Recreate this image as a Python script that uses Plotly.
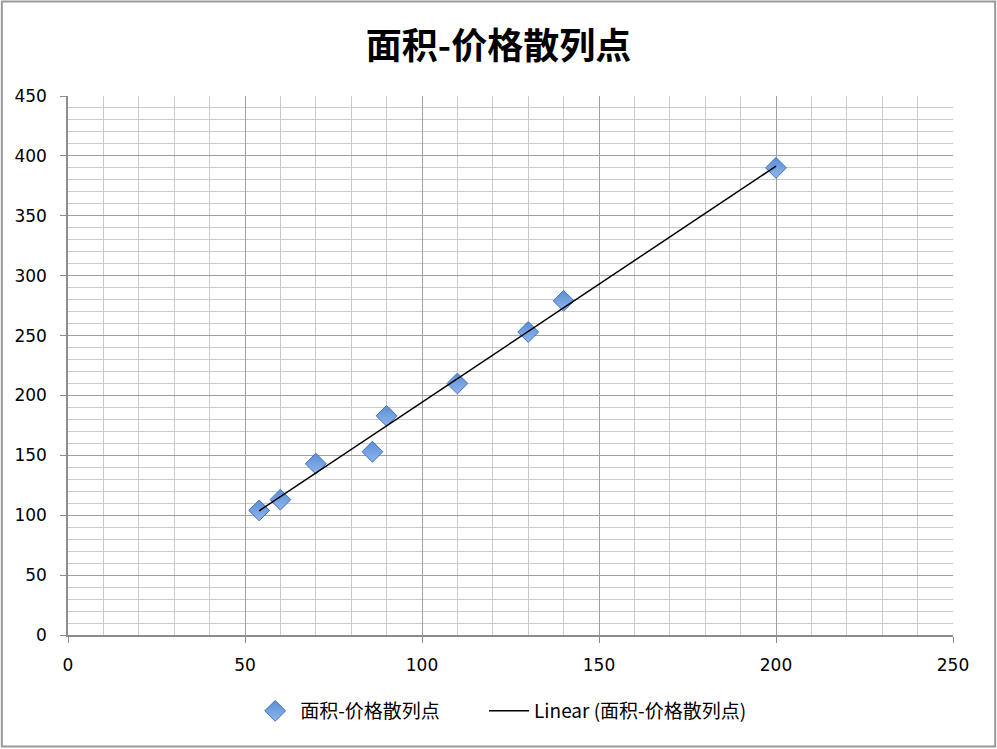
import numpy as np
import plotly.graph_objects as go

# Data
area = [54, 60, 70, 86, 90, 110, 130, 140, 200]
price = [104, 113, 143, 153, 183, 210, 253, 279, 390]
series_name = "面积-价格散列点"
trend_name = "Linear (面积-价格散列点)"
title_text = "面积-价格散列点"

x_arr = np.array(area, dtype=float)
y_arr = np.array(price, dtype=float)
slope, intercept = np.polyfit(x_arr, y_arr, 1)
fit_x = np.array([x_arr.min(), x_arr.max()])
fit_y = slope * fit_x + intercept

W, H = 997, 749
L, R, T, B = 67.7, 43.7, 96, 114
pw, ph = W - L - R, H - T - B

def px(p):
    return (p - L) / pw

def py(p):
    return (H - B - p) / ph

fig = go.Figure()
fig.add_trace(go.Scatter(
    x=area, y=price, mode="markers", name=series_name, legend="legend",
    marker=dict(symbol="diamond", size=16, color="#5A8ED6",
                gradient=dict(type="vertical", color="#8FB6EC"),
                line=dict(color="#3E6FB8", width=1)),
))
fig.add_trace(go.Scatter(
    x=fit_x, y=fit_y, mode="lines", name=trend_name, legend="legend2",
    line=dict(color="black", width=1.5),
))

axis_common = dict(
    showline=True, linecolor="#8c8c8c", linewidth=1.5,
    showgrid=True, gridcolor="#a0a0a0", gridwidth=1.3,
    ticks="outside", ticklen=6, tickcolor="#8c8c8c", tickwidth=1.2,
    zeroline=False, mirror=False,
    tickfont=dict(family="DejaVu Sans, Noto Sans", size=17, color="black"),
    minor=dict(dtick=10, showgrid=True, gridcolor="#cbcbcb", gridwidth=1.2, ticks=""),
)

legend_common = dict(orientation="h", xanchor="left", y=py(711), yanchor="middle",
                     font=dict(family="Noto Sans CJK SC", size=19, color="black"),
                     itemwidth=40, bgcolor="rgba(0,0,0,0)")

fig.update_layout(
    width=W, height=H,
    margin=dict(l=L, r=R, t=T, b=B),
    paper_bgcolor="white", plot_bgcolor="white",
    title=dict(text=f"<b>{title_text}</b>", x=0.5, xanchor="center",
               y=1 - 46 / H, yanchor="middle",
               font=dict(family="Noto Sans CJK SC", size=36, color="black")),
    xaxis=dict(range=[0, 250], dtick=50, tick0=0, ticklabelstandoff=8, **axis_common),
    yaxis=dict(range=[0, 450], dtick=50, tick0=0, ticklabelstandoff=10, **axis_common),
    legend=dict(x=px(250), **legend_common),
    legend2=dict(x=px(484), **legend_common),
    showlegend=True,
    shapes=[dict(type="rect", xref="paper", yref="paper",
                 x0=px(1.5), x1=px(995.5), y0=py(746.5), y1=py(1.5),
                 line=dict(color="#999999", width=2), layer="above")],
)

fig.write_html("out.html")
